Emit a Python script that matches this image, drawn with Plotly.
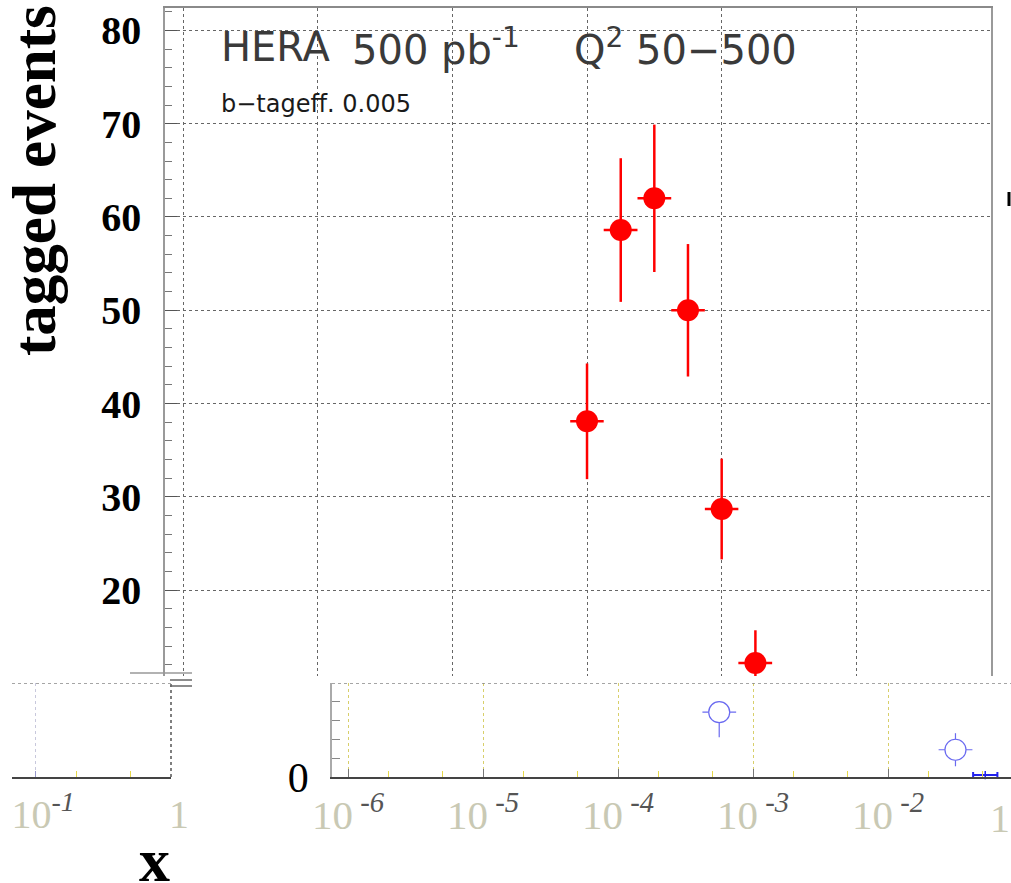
import plotly.graph_objects as go

W, H = 1011, 883

def px(x):
    return x / W

def py(y):
    return 1 - y / H

# ---------------- data ----------------
# main panel: tagged events vs x (quarter-decade bins)
x_centres = [1.00e-3, 1.78e-3, 3.16e-3, 5.62e-3, 1.00e-2, 1.78e-2]
x_low = [7.50e-4, 1.33e-3, 2.37e-3, 4.22e-3, 7.50e-3, 1.33e-2]
x_high = [1.33e-3, 2.37e-3, 4.22e-3, 7.50e-3, 1.33e-2, 2.37e-2]
events = [38.1, 58.6, 62.0, 50.0, 28.7, 12.2]
events_err = [6.2, 7.7, 7.9, 7.1, 5.4, 3.5]

# overlaid lower strip: open blue points
strip_x = [5.62e-4, 3.16e-2]
strip_x_low = [4.22e-4, 2.37e-2]
strip_x_high = [7.50e-4, 4.22e-2]
strip_y = [3.45, 1.45]
strip_err_plus = [0.5, 0.88]
strip_err_minus = [1.33, 0.88]

edge_x = [0.0525]
edge_x_low = [0.0427]
edge_x_high = [0.0646]
edge_y = [0.1]

# tick labels
main_y_ticks = [20, 30, 40, 50, 60, 70, 80]
strip_tick_vals = [1e-6, 1e-5, 1e-4, 1e-3, 1e-2]
strip_tick_exps = ["-6", "-5", "-4", "-3", "-2"]
left_tick_vals = [0.1, 1.0]
left_tick_exps = ["-1", ""]

SERIF = "Liberation Serif"
SANS = "DejaVu Sans"

def pale_label(exp, gap=" "):
    if exp == "":
        return "<span style='color:#c9c9b4'>1</span>"
    return ("<span style='color:#c9c9b4'>10</span>"
            "<sup><i><span style='color:#555555'>%s%s</span></i></sup>" % (gap, exp))

fig = go.Figure()

# main red points
fig.add_trace(go.Scatter(
    x=x_centres, y=events, mode="markers",
    marker=dict(color="#ff0000", size=22, line=dict(width=0)),
    error_y=dict(type="data", array=events_err, color="#ff0000", thickness=2.5, width=0),
    error_x=dict(type="data",
                 array=[h - c for h, c in zip(x_high, x_centres)],
                 arrayminus=[c - l for c, l in zip(x_centres, x_low)],
                 color="#ff0000", thickness=2.5, width=0),
    xaxis="x", yaxis="y", showlegend=False, cliponaxis=True,
))

# strip blue open points (white-filled so bars stop at the circle)
fig.add_trace(go.Scatter(
    x=strip_x, y=strip_y, mode="markers",
    marker=dict(symbol="circle", color="white", size=21,
                line=dict(width=1.2, color="#6a6af0")),
    error_y=dict(type="data", array=strip_err_plus, arrayminus=strip_err_minus,
                 color="#6a6af0", thickness=1.2, width=0),
    error_x=dict(type="data",
                 array=[h - c for h, c in zip(strip_x_high, strip_x)],
                 arrayminus=[c - l for c, l in zip(strip_x, strip_x_low)],
                 color="#6a6af0", thickness=1.2, width=0),
    xaxis="x2", yaxis="y2", showlegend=False,
))
fig.add_trace(go.Scatter(
    x=edge_x, y=edge_y, mode="markers",
    marker=dict(symbol="line-ns", color="#2222ee", size=6, line=dict(width=1.5, color="#2222ee")),
    error_x=dict(type="data",
                 array=[h - c for h, c in zip(edge_x_high, edge_x)],
                 arrayminus=[c - l for c, l in zip(edge_x, edge_x_low)],
                 color="#2222ee", thickness=2, width=3),
    xaxis="x2", yaxis="y2", showlegend=False, cliponaxis=False,
))

fig.update_layout(
    width=W, height=H,
    margin=dict(l=0, r=0, t=0, b=0, autoexpand=False),
    paper_bgcolor="white", plot_bgcolor="white",
    showlegend=False,
    xaxis=dict(
        type="log", range=[-6.134, 0], domain=[px(165), px(991)],
        anchor="y", side="top", automargin=False,
        showgrid=True, gridcolor="#666666", griddash="dot", gridwidth=1,
        dtick=1, showticklabels=False, ticks="",
        showline=True, linecolor="#8a8a8a", linewidth=1.5, zeroline=False,
    ),
    yaxis=dict(
        range=[10.8, 82.4], domain=[py(676), py(8)], anchor="x", automargin=False,
        tickvals=main_y_ticks, ticktext=[str(v) for v in main_y_ticks],
        ticks="inside", ticklen=12, tickcolor="#555555", tickwidth=1,
        minor=dict(dtick=2, ticks="inside", ticklen=7, tickcolor="#777777", showgrid=False),
        showgrid=True, gridcolor="#666666", griddash="dot", gridwidth=1,
        tickfont=dict(family=SERIF, size=40, color="black", weight="bold"),
        ticklabelstandoff=14,
        showline=True, linecolor="#9a9a9a", linewidth=1.5, mirror=True, zeroline=False,
    ),
    xaxis2=dict(
        type="log", range=[-6.1185, -1.089], domain=[px(332), 1.0], anchor="y2",
        automargin=False,
        tickvals=strip_tick_vals, ticktext=[pale_label(e) for e in strip_tick_exps],
        tickfont=dict(family=SERIF, size=41, color="#c9c9b4"),
        ticks="inside", ticklen=8, tickcolor="#777777",
        minor=dict(ticks="inside", ticklen=6, tickcolor="#e6d84a", dtick="D2", showgrid=False),
        showgrid=True, gridcolor="#d8cf6a", griddash="dot", gridwidth=1,
        showline=True, linecolor="#444444", linewidth=2, zeroline=False,
        ticklabelstandoff=1,
    ),
    yaxis2=dict(
        range=[0, 5], domain=[py(777), py(683)], anchor="x2", automargin=False,
        tickvals=[0, 1, 2, 3, 4, 5], ticktext=["0", "", "", "", "", ""],
        ticks="inside", ticklen=8, tickcolor="#888888",
        tickfont=dict(family=SERIF, size=42, color="black"),
        ticklabelstandoff=13,
        showgrid=False, showline=True, linecolor="#aaaaaa", linewidth=1.5, zeroline=False,
    ),
    xaxis3=dict(
        type="log", range=[-1.17, 0], domain=[px(12), px(171)], anchor="y3",
        automargin=False,
        tickvals=left_tick_vals, ticktext=[pale_label(e, gap="") for e in left_tick_exps],
        tickfont=dict(family=SERIF, size=40, color="#c9c9b4"),
        ticks="inside", ticklen=6, tickcolor="#9999cc",
        minor=dict(ticks="inside", ticklen=6, tickcolor="#e6d84a", dtick="D2", showgrid=False),
        showgrid=True, gridcolor="#c8c8dc", griddash="dot", gridwidth=1,
        showline=True, linecolor="#444444", linewidth=2, zeroline=False,
        ticklabelstandoff=1, ticklabelshift=8,
    ),
    yaxis3=dict(
        range=[0, 5], domain=[py(777), py(683)], anchor="x3", automargin=False,
        showticklabels=False, ticks="", showgrid=False, showline=False, zeroline=False,
    ),
)

# dummy trace so the left panel axes are drawn
fig.add_trace(go.Scatter(x=[0.5], y=[-1], mode="markers", marker=dict(size=1, opacity=0),
                         xaxis="x3", yaxis="y3", showlegend=False, hoverinfo="skip"))

shapes = [
    # strip top dotted
    dict(type="line", xref="x2 domain", yref="y2", x0=0, x1=1, y0=5, y1=5,
         line=dict(color="#888888", width=1.5, dash="dot")),
    # left panel top dotted and right edge dotted
    dict(type="line", xref="x3 domain", yref="y3", x0=0, x1=1, y0=5, y1=5,
         line=dict(color="#888888", width=1.5, dash="dot")),
    dict(type="line", xref="x3 domain", yref="y3", x0=1, x1=1, y0=0, y1=5,
         line=dict(color="#555555", width=1.5, dash="dot")),
    # small artefacts of the overlaid scan
    dict(type="line", xref="paper", yref="paper", x0=px(130), x1=px(192), y0=py(673), y1=py(673),
         line=dict(color="#999999", width=1.5)),
    dict(type="line", xref="paper", yref="paper", x0=px(170), x1=px(192), y0=py(680), y1=py(680),
         line=dict(color="#666666", width=1.5)),
    dict(type="line", xref="paper", yref="paper", x0=px(170), x1=px(192), y0=py(686), y1=py(686),
         line=dict(color="#666666", width=1.5)),
    dict(type="line", xref="paper", yref="paper", x0=px(1009), x1=px(1009), y0=py(192), y1=py(206),
         line=dict(color="black", width=3)),
]
fig.update_layout(shapes=shapes)

annotations = [
    dict(text="tagged events", x=px(34), y=py(181), xref="paper", yref="paper",
         textangle=-90, showarrow=False, xanchor="center", yanchor="middle",
         font=dict(family=SERIF, size=61, color="black", weight="bold")),
    dict(text="x", x=px(154), y=py(860), xref="paper", yref="paper",
         showarrow=False, xanchor="center", yanchor="middle",
         font=dict(family=SERIF, size=62, color="black", weight="bold")),
    dict(text="1", x=px(1000), y=py(818), xref="paper", yref="paper",
         showarrow=False, xanchor="center", yanchor="middle",
         font=dict(family=SERIF, size=40, color="#c9c9b4")),
    dict(text="HERA", x=px(219), y=py(47), xref="paper", yref="paper",
         showarrow=False, xanchor="left", yanchor="middle",
         font=dict(family=SANS, size=40, color="#3a3a3a")),
    dict(text="500 pb<sup>-1</sup>", x=px(350), y=py(47), xref="paper", yref="paper",
         showarrow=False, xanchor="left", yanchor="middle",
         font=dict(family=SANS, size=40, color="#3a3a3a")),
    dict(text="Q<sup>2</sup> 50\u2212500", x=px(572), y=py(47), xref="paper", yref="paper",
         showarrow=False, xanchor="left", yanchor="middle",
         font=dict(family=SANS, size=40, color="#3a3a3a")),
    dict(text="b\u2212tageff. 0.005", x=px(219), y=py(104), xref="paper", yref="paper",
         showarrow=False, xanchor="left", yanchor="middle",
         font=dict(family=SANS, size=24, color="#1a1a1a")),
]
fig.update_layout(annotations=annotations)

fig.write_html("out.html")
